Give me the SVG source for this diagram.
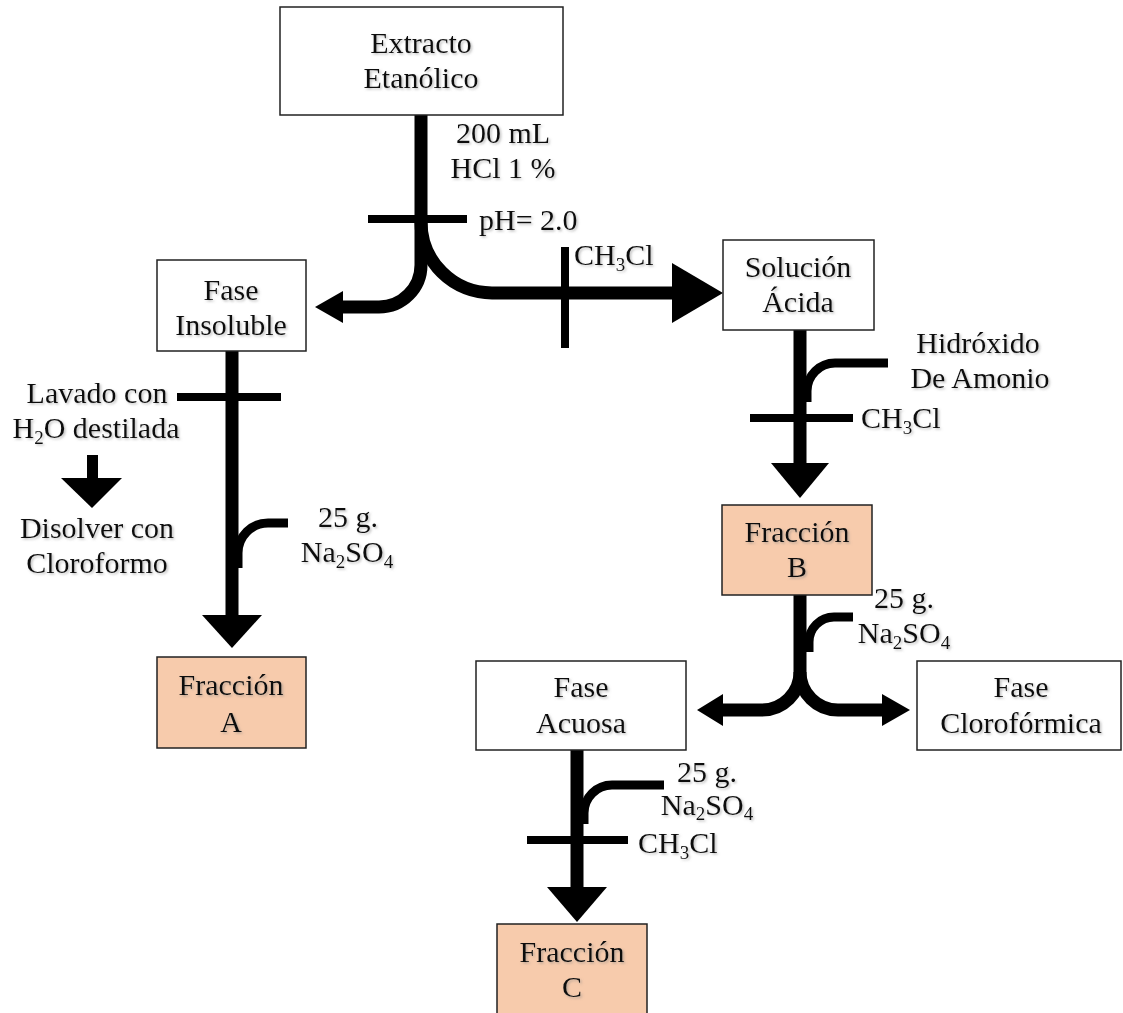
<svg xmlns="http://www.w3.org/2000/svg" width="1123" height="1013" viewBox="0 0 1123 1013">
<style>
  .box { fill: #ffffff; stroke: #222222; stroke-width: 1.5; }
  .frac { fill: #F7CBAC; stroke: #222222; stroke-width: 1.5; }
  .t { font-family: "Liberation Serif", "Times New Roman", serif; font-size: 30px; fill: #111111; filter: url(#sh); }
  .c { text-anchor: middle; }
  .main { fill: none; stroke: #000000; stroke-width: 13; }
  .hook { fill: none; stroke: #000000; stroke-width: 9; }
  .tick { fill: none; stroke: #000000; stroke-width: 8; }
  .head { fill: #000000; stroke: none; }
</style>
<defs>
  <filter id="sh" x="-10%" y="-20%" width="130%" height="150%">
    <feDropShadow dx="1.5" dy="1.5" stdDeviation="1" flood-color="#808080" flood-opacity="0.5"/>
  </filter>
</defs>
<rect width="1123" height="1013" fill="#ffffff"/>

<g id="connectors">
  <!-- Extracto splits -->
  <path class="main" d="M421,115 V265 A42 42 0 0 1 379,307 H340"/>
  <polygon class="head" points="343,291 315,307 343,323"/>
  <path class="main" d="M421,222 A71 71 0 0 0 492,293 H675"/>
  <polygon class="head" points="672,263 723,293 672,323"/>
  <line class="tick" x1="368" y1="219" x2="467" y2="219"/>
  <line class="tick" x1="565" y1="247" x2="565" y2="348"/>

  <!-- Fase Insoluble -> Fracción A -->
  <path class="main" d="M232,351 V618"/>
  <polygon class="head" points="202,615 262,615 232,648"/>
  <line class="tick" x1="177" y1="397" x2="281" y2="397"/>
  <path class="hook" d="M288,523 H268 A30 30 0 0 0 238,553 V568"/>
  <!-- small arrow left -->
  <rect class="head" x="87" y="455" width="11" height="25"/>
  <polygon class="head" points="61,478 122,478 92,508"/>

  <!-- Solución Ácida -> Fracción B -->
  <path class="main" d="M800,330 V466"/>
  <polygon class="head" points="771,463 829,463 800,498"/>
  <path class="hook" d="M888,363 H835 A28 28 0 0 0 807,391 V402"/>
  <line class="tick" x1="750" y1="418" x2="853" y2="418"/>

  <!-- Fracción B splits -->
  <path class="main" d="M800,595 V672 A38 38 0 0 1 762,710 H720"/>
  <polygon class="head" points="723,694 697,710 723,726"/>
  <path class="main" d="M800,672 A38 38 0 0 0 838,710 H885"/>
  <polygon class="head" points="882,694 910,710 882,726"/>
  <path class="hook" d="M853,617 H834 A25 25 0 0 0 809,642 V652"/>

  <!-- Fase Acuosa -> Fracción C -->
  <path class="main" d="M577,750 V890"/>
  <polygon class="head" points="547,887 607,887 577,922"/>
  <path class="hook" d="M664,785 H612 A28 28 0 0 0 584,813 V824"/>
  <line class="tick" x1="527" y1="840" x2="628" y2="840"/>
</g>

<g id="extracto">
  <rect class="box" x="280" y="7" width="283" height="108"/>
  <text class="t c" x="421" y="53">Extracto</text>
  <text class="t c" x="421" y="88">Etanólico</text>
</g>

<g id="label-hcl">
  <text class="t c" x="503" y="143">200 mL</text>
  <text class="t c" x="503" y="178">HCl 1 %</text>
  <text class="t" x="479" y="230">pH= 2.0</text>
</g>

<g id="label-ch3cl-1">
  <text class="t" x="574" y="265">CH<tspan font-size="19" dy="6">3</tspan><tspan dy="-6">Cl</tspan></text>
</g>

<g id="fase-insoluble">
  <rect class="box" x="157" y="260" width="149" height="91"/>
  <text class="t c" x="231" y="300">Fase</text>
  <text class="t c" x="231" y="335">Insoluble</text>
</g>

<g id="label-lavado">
  <text class="t c" x="97" y="403">Lavado  con</text>
  <text class="t c" x="96" y="438">H<tspan font-size="19" dy="6">2</tspan><tspan dy="-6">O destilada</tspan></text>
  <text class="t c" x="97" y="538">Disolver con</text>
  <text class="t c" x="97" y="573">Cloroformo</text>
</g>

<g id="label-na2so4-a">
  <text class="t c" x="348" y="527">25 g.</text>
  <text class="t c" x="347" y="562">Na<tspan font-size="19" dy="6">2</tspan><tspan dy="-6">SO</tspan><tspan font-size="19" dy="6">4</tspan></text>
</g>

<g id="fraccion-a">
  <rect class="frac" x="157" y="657" width="149" height="91"/>
  <text class="t c" x="231" y="695">Fracción</text>
  <text class="t c" x="231" y="732">A</text>
</g>

<g id="solucion-acida">
  <rect class="box" x="723" y="240" width="151" height="90"/>
  <text class="t c" x="798" y="277">Solución</text>
  <text class="t c" x="798" y="312">Ácida</text>
</g>

<g id="label-hidroxido">
  <text class="t c" x="978" y="353">Hidróxido</text>
  <text class="t c" x="980" y="388">De Amonio</text>
  <text class="t" x="861" y="428">CH<tspan font-size="19" dy="6">3</tspan><tspan dy="-6">Cl</tspan></text>
</g>

<g id="fraccion-b">
  <rect class="frac" x="722" y="505" width="150" height="90"/>
  <text class="t c" x="797" y="542">Fracción</text>
  <text class="t c" x="797" y="577">B</text>
</g>

<g id="label-na2so4-b">
  <text class="t c" x="904" y="608">25 g.</text>
  <text class="t c" x="904" y="643">Na<tspan font-size="19" dy="6">2</tspan><tspan dy="-6">SO</tspan><tspan font-size="19" dy="6">4</tspan></text>
</g>

<g id="fase-acuosa">
  <rect class="box" x="476" y="661" width="210" height="89"/>
  <text class="t c" x="581" y="697">Fase</text>
  <text class="t c" x="581" y="733">Acuosa</text>
</g>

<g id="fase-cloroformica">
  <rect class="box" x="917" y="661" width="204" height="89"/>
  <text class="t c" x="1021" y="697">Fase</text>
  <text class="t c" x="1021" y="733">Clorofórmica</text>
</g>

<g id="label-na2so4-c">
  <text class="t c" x="707" y="782">25 g.</text>
  <text class="t c" x="707" y="815">Na<tspan font-size="19" dy="5">2</tspan><tspan dy="-5">SO</tspan><tspan font-size="19" dy="5">4</tspan></text>
  <text class="t" x="638" y="853">CH<tspan font-size="19" dy="6">3</tspan><tspan dy="-6">Cl</tspan></text>
</g>

<g id="fraccion-c">
  <rect class="frac" x="497" y="924" width="150" height="100"/>
  <text class="t c" x="572" y="962">Fracción</text>
  <text class="t c" x="572" y="997">C</text>
</g>
</svg>
